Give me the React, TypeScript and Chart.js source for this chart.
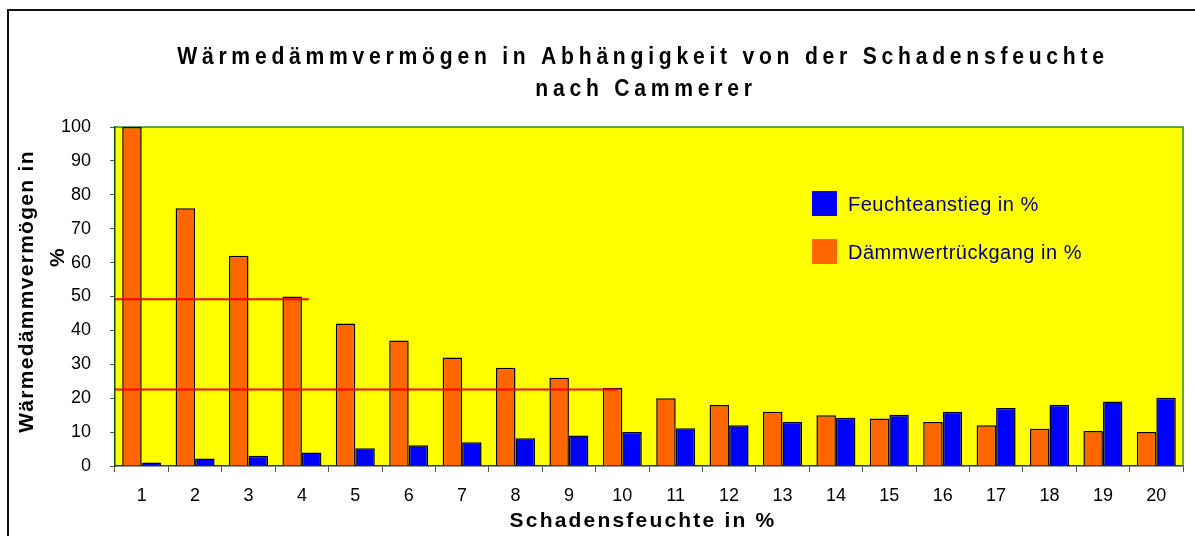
import React, { useEffect, useRef } from 'react';
import { Chart, registerables } from 'chart.js';

Chart.register(...registerables);

// ---------- data ----------
const categories = ['1', '2', '3', '4', '5', '6', '7', '8', '9', '10', '11', '12', '13', '14', '15', '16', '17', '18', '19', '20'];
const daemmwertRueckgang = [100, 76, 62, 50, 42, 37, 32, 29, 26, 23, 20, 18, 16, 15, 14, 13, 12, 11, 10.3, 10];
const feuchteAnstieg = [1, 2.2, 3, 4, 5.2, 6.1, 7, 8.2, 9, 10, 11.1, 12, 13, 14.2, 15.1, 16, 17.1, 18.1, 19, 20.1];
const refUpperX = [-0.5, 3.13];
const refUpperY = [49.2, 49.2];
const refLowerX = [-0.5, 8.92];
const refLowerY = [22.6, 22.6];

const titleLines = ['Wärmedämmvermögen in Abhängigkeit von der Schadensfeuchte', 'nach Cammerer'];
const yTitleLines = ['Wärmedämmvermögen in', '%'];
const xTitle = 'Schadensfeuchte in %';
const seriesLabels = ['Dämmwertrückgang in %', 'Feuchteanstieg in %'];

const FONT = '"Liberation Sans", Arial, Helvetica, sans-serif';
const ORANGE = '#FF6600';
const BLUE = '#0000FF';

const decorPlugin = {
  id: 'decor',
  beforeDraw(chart: any) {
    const { ctx, chartArea: a } = chart;
    ctx.save();
    ctx.fillStyle = '#FFFF00';
    ctx.fillRect(a.left, a.top, a.right - a.left, a.bottom - a.top);
    ctx.restore();
  },
  beforeDatasetsDraw(chart: any) {
    const { ctx, chartArea: a } = chart;
    ctx.save();
    ctx.strokeStyle = '#2a8a2a';
    ctx.lineWidth = 1.5;
    ctx.beginPath();
    ctx.moveTo(a.left, a.top);
    ctx.lineTo(a.right, a.top);
    ctx.lineTo(a.right, a.bottom);
    ctx.stroke();
    ctx.restore();
  },
  afterDatasetsDraw(chart: any) {
    const { ctx } = chart;
    const xs = chart.scales.xl;
    const ys = chart.scales.y;
    ctx.save();
    ctx.strokeStyle = '#FF0000';
    ctx.lineWidth = 2;
    [[refUpperX, refUpperY], [refLowerX, refLowerY]].forEach(([lx, ly]) => {
      ctx.beginPath();
      lx.forEach((x: number, i: number) => {
        const px = xs.getPixelForValue(x);
        const py = ys.getPixelForValue(ly[i]);
        if (i === 0) ctx.moveTo(px, py); else ctx.lineTo(px, py);
      });
      ctx.stroke();
    });
    ctx.restore();
  },
  afterDraw(chart: any) {
    const { ctx, chartArea: a } = chart;
    const cx = (a.left + a.right) / 2;
    ctx.save();
    ctx.fillStyle = '#000';
    // main title (slightly condensed glyphs, wide tracking)
    ctx.textAlign = 'center';
    ctx.textBaseline = 'alphabetic';
    const sx = 0.88;
    ctx.save();
    ctx.scale(sx, 1);
    ctx.font = `bold 24px ${FONT}`;
    (ctx as any).letterSpacing = '5.4px';
    ctx.fillText(titleLines[0], (cx - 6) / sx, 64);
    ctx.fillText(titleLines[1], (cx - 3) / sx, 96);
    ctx.restore();
    // x title
    ctx.font = `bold 21px ${FONT}`;
    (ctx as any).letterSpacing = '2.2px';
    ctx.fillText(xTitle, cx - 6, 527);
    // y title
    (ctx as any).letterSpacing = '1.3px';
    ctx.save();
    ctx.translate(27, 291.5);
    ctx.rotate(-Math.PI / 2);
    ctx.textBaseline = 'middle';
    ctx.fillText(yTitleLines[0], 0, 0);
    ctx.restore();
    ctx.save();
    ctx.translate(58, 257);
    ctx.rotate(-Math.PI / 2);
    ctx.textBaseline = 'middle';
    ctx.fillText(yTitleLines[1], 0, 0);
    ctx.restore();
    // legend (Feuchteanstieg first)
    (ctx as any).letterSpacing = '0.5px';
    ctx.font = `20px ${FONT}`;
    ctx.textAlign = 'left';
    ctx.textBaseline = 'alphabetic';
    const items = [
      { label: seriesLabels[1], color: BLUE, y: 191 },
      { label: seriesLabels[0], color: ORANGE, y: 239 },
    ];
    items.forEach((it) => {
      ctx.fillStyle = it.color;
      ctx.fillRect(812, it.y, 25, 25);
      ctx.fillStyle = '#000080';
      ctx.fillText(it.label, 848, it.y + 20);
    });
    ctx.restore();
  },
};

export default function App() {
  const canvasRef = useRef<HTMLCanvasElement | null>(null);

  useEffect(() => {
    if (!canvasRef.current) return;
    const chart = new Chart(canvasRef.current, {
      type: 'bar',
      data: {
        labels: categories,
        datasets: [
          {
            label: seriesLabels[0],
            data: daemmwertRueckgang,
            backgroundColor: ORANGE,
            borderColor: '#000',
            borderWidth: 1.5,
            categoryPercentage: 0.73,
            barPercentage: 1.0,
          },
          {
            label: seriesLabels[1],
            data: feuchteAnstieg,
            backgroundColor: BLUE,
            borderColor: '#000',
            borderWidth: 1.5,
            categoryPercentage: 0.73,
            barPercentage: 1.0,
          },
        ],
      },
      options: {
        responsive: false,
        animation: false,
        layout: { padding: { top: 127, right: 12, left: 0, bottom: 0 } },
        plugins: {
          legend: { display: false },
          title: { display: false },
          tooltip: { enabled: false },
        },
        scales: {
          x: {
            type: 'category',
            afterFit: (s: any) => { s.height = 70; },
            grid: { display: true, drawOnChartArea: false, tickLength: 6, color: '#555', offset: true },
            border: { display: true, color: '#1f3a1f', width: 1.5 },
            ticks: { font: { family: FONT, size: 18 }, color: '#000', padding: 13, maxRotation: 0, autoSkip: false },
          },
          xl: {
            type: 'linear',
            axis: 'x',
            position: 'bottom',
            display: false,
            min: -0.5,
            max: 19.5,
            offset: false,
          },
          y: {
            type: 'linear',
            min: 0,
            max: 100,
            afterFit: (s: any) => { s.width = 115; },
            grid: { display: true, drawOnChartArea: false, tickLength: 5, color: '#555' },
            border: { display: true, color: '#0d4a0d', width: 1.5 },
            ticks: { stepSize: 10, font: { family: FONT, size: 18 }, color: '#000', padding: 19 },
          },
        },
      } as any,
      plugins: [decorPlugin],
    });
    return () => chart.destroy();
  }, []);

  return (
    <div style={{ position: 'fixed', left: 0, top: 0, width: 1195, height: 536, overflow: 'hidden', background: '#fff' }}>
      <div style={{ position: 'absolute', left: 7, top: 9, width: 1400, height: 800, border: '2px solid #111' }} />
      <canvas ref={canvasRef} width={1195} height={536} style={{ position: 'absolute', left: 0, top: 0 }} />
    </div>
  );
}
